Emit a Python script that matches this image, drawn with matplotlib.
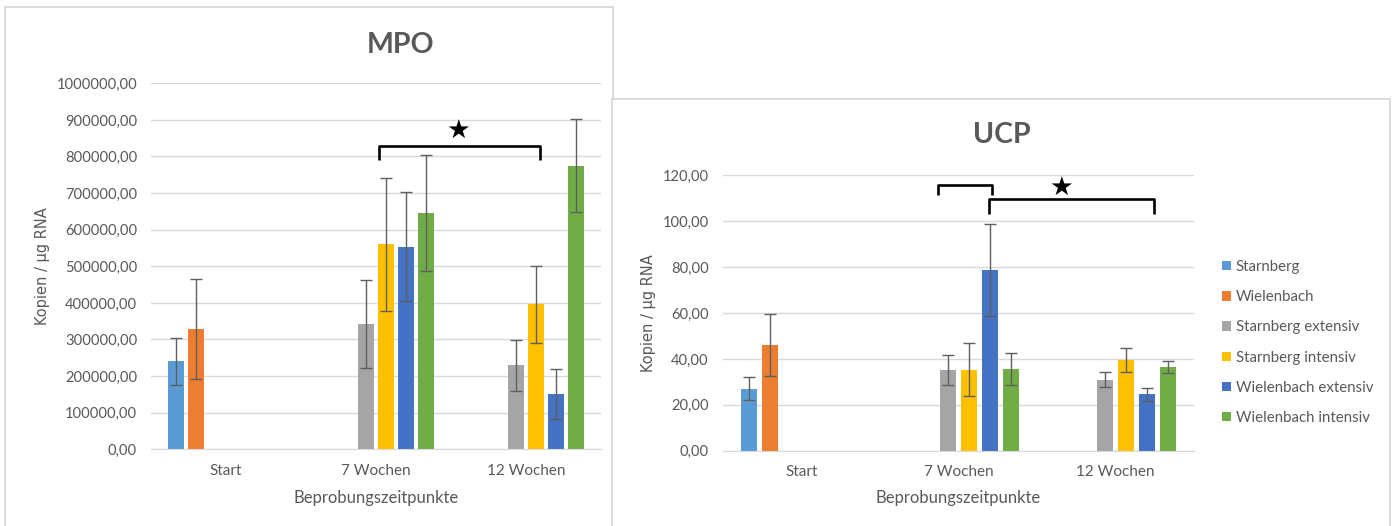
import numpy as np
import matplotlib
matplotlib.use('Agg')
import matplotlib.pyplot as plt
from matplotlib.patches import Rectangle
from matplotlib.ticker import FuncFormatter, MultipleLocator

plt.rcParams['font.family'] = ['Lato', 'DejaVu Sans']

# Data
categories = ['Start', '7 Wochen', '12 Wochen']
series = ['Starnberg', 'Wielenbach', 'Starnberg extensiv', 'Starnberg intensiv',
          'Wielenbach extensiv', 'Wielenbach intensiv']
colors = ['#5B9BD5', '#ED7D31', '#A5A5A5', '#FFC000', '#4472C4', '#70AD47']
nan = np.nan

mpo_mean = [[240000, nan, nan],
            [328000, nan, nan],
            [nan, 342000, 229000],
            [nan, 560000, 396000],
            [nan, 554000, 151000],
            [nan, 645000, 775000]]
mpo_err = [[63000, nan, nan],
           [136000, nan, nan],
           [nan, 121000, 70000],
           [nan, 182000, 105000],
           [nan, 150000, 68000],
           [nan, 159000, 128000]]

ucp_mean = [[27.0, nan, nan],
            [45.9, nan, nan],
            [nan, 35.0, 31.0],
            [nan, 35.3, 39.7],
            [nan, 78.6, 24.6],
            [nan, 35.6, 36.5]]
ucp_err = [[5.0, nan, nan],
           [13.5, nan, nan],
           [nan, 6.5, 3.4],
           [nan, 11.6, 5.2],
           [nan, 20.0, 2.9],
           [nan, 6.8, 2.8]]

# significance brackets: (x0, x1, y_top, y_leg)
mpo_brackets = [(1.02, 2.093, 830000, 790000)]
mpo_star = (1.547, 870000)
ucp_brackets = [(0.873, 1.213, 115.8, 111.4), (1.197, 2.247, 109.7, 103.0)]
ucp_star = (1.652, 114.5)

TXT = '#595959'
GRID = '#D9D9D9'
W, H = 1397, 526

fig = plt.figure(figsize=(W / 100, H / 100), dpi=100)


def px_axes(x0, y0, x1, y1):
    return fig.add_axes([x0 / W, 1 - y1 / H, (x1 - x0) / W, (y1 - y0) / H])


def ftext(x, y, s, **kw):
    fig.text(x / W, 1 - y / H, s, **kw)


# chart boxes
fig.patches.append(Rectangle((5 / W, -0.05), 608 / W, 1 - 7 / H + 0.05, transform=fig.transFigure,
                             facecolor='white', edgecolor=GRID, lw=1.3, zorder=-3))
fig.patches.append(Rectangle((612 / W, -0.05), 778 / W, 1 - 99 / H + 0.05, transform=fig.transFigure,
                             facecolor='white', edgecolor=GRID, lw=1.3, zorder=-2))

comma = FuncFormatter(lambda v, p: f'{v:.2f}'.replace('.', ','))


def draw(ax, means, errs, ymax, step, brackets, star):
    x = np.arange(len(categories))
    slot = 0.8 / len(series)
    handles = []
    for i, name in enumerate(series):
        pos = x + (i - 2.5) * slot
        b = ax.bar(pos, means[i], width=slot * 0.77, color=colors[i], label=name, zorder=2)
        ax.errorbar(pos, means[i], yerr=errs[i], fmt='none', ecolor='#5f5f5f',
                    elinewidth=1, capsize=4.5, capthick=1, zorder=3)
        handles.append(b)
    ax.set_xlim(-0.5, 2.5)
    ax.set_ylim(0, ymax)
    ax.yaxis.set_major_locator(MultipleLocator(step))
    ax.yaxis.set_major_formatter(comma)
    ax.grid(axis='y', color=GRID, lw=1, zorder=0)
    ax.set_axisbelow(True)
    for s in ['top', 'right', 'left']:
        ax.spines[s].set_visible(False)
    ax.spines['bottom'].set_color(GRID)
    ax.set_xticks(x)
    ax.set_xticklabels(categories)
    ax.tick_params(axis='both', length=0, colors=TXT, labelsize=10.6)
    ax.tick_params(axis='x', labelsize=11, pad=10.5)
    ax.tick_params(axis='y', pad=10)
    ax.patch.set_alpha(0)
    for x0, x1, yt, yl in brackets:
        ax.plot([x0, x0, x1, x1], [yl, yt, yt, yl], color='black', lw=1.9,
                solid_joinstyle='round', solid_capstyle='butt', clip_on=False, zorder=4)
    ax.text(star[0], star[1], '\u2605', ha='center', va='center', fontsize=19,
            family='DejaVu Sans', color='black', zorder=5)
    return handles


# MPO
ax1 = px_axes(151, 83.3, 601, 449.3)
draw(ax1, mpo_mean, mpo_err, 1000000, 100000, mpo_brackets, mpo_star)
ftext(401, 45, 'MPO', ha='center', va='center', fontsize=20.5, weight='bold', color=TXT)
ftext(42, 266, 'Kopien / \u00b5g RNA', rotation=90, ha='center', va='center',
      fontsize=10.5, family='DejaVu Sans', color=TXT)
ftext(376, 498, 'Beprobungszeitpunkte', ha='center', va='center', fontsize=12, color=TXT)

# UCP
ax2 = px_axes(722.8, 175.3, 1194, 450.7)
hs = draw(ax2, ucp_mean, ucp_err, 120, 20, ucp_brackets, ucp_star)
ftext(1002, 135, 'UCP', ha='center', va='center', fontsize=20.5, weight='bold', color=TXT)
ftext(648, 313, 'Kopien / \u00b5g RNA', rotation=90, ha='center', va='center',
      fontsize=10.5, family='DejaVu Sans', color=TXT)
ftext(958.4, 498, 'Beprobungszeitpunkte', ha='center', va='center', fontsize=12, color=TXT)

leg = ax2.legend(handles=hs, loc='upper left', bbox_to_anchor=(1222 / W, 1 - 260 / H),
                 bbox_transform=fig.transFigure, frameon=False, fontsize=10.8,
                 handlelength=0.6, handleheight=0.6, handletextpad=0.3,
                 labelspacing=1.08, borderpad=0, borderaxespad=0)
for t in leg.get_texts():
    t.set_color(TXT)

fig.savefig('out.png', dpi=100)
